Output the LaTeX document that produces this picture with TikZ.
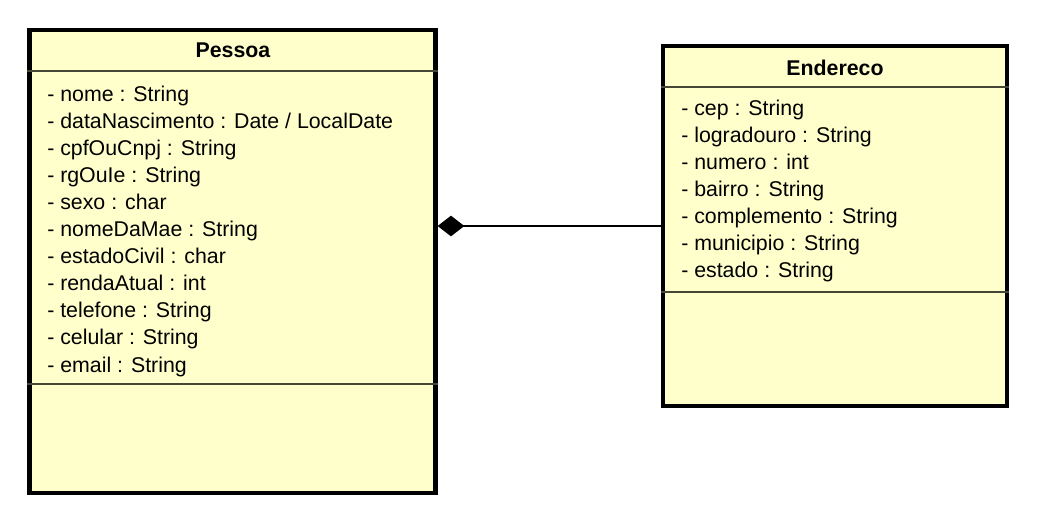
\documentclass[tikz,border=0pt]{standalone}
\usepackage{fontspec}
\setmainfont{Liberation Sans}
\usetikzlibrary{arrows.meta}
\definecolor{classfill}{HTML}{FFFFCC}
\definecolor{sepline}{RGB}{70,70,55}
\begin{document}
\begin{tikzpicture}[x=0.75pt,y=-0.75pt,
  classbox/.style={draw=black,line width=3.2pt,fill=classfill,inner sep=0pt,rectangle},
  classname/.style={font=\fontsize{16pt}{19pt}\selectfont\bfseries,anchor=base,inner sep=0pt},
  attr/.style={font=\fontsize{16pt}{19pt}\selectfont,anchor=base west,inner sep=0pt},
  sep/.style={draw=sepline,line width=1.4pt},
  compose/.style={line width=1.5pt,{Diamond[length=20pt,width=15.5pt]}-}]
\useasboundingbox (0,0) rectangle (1042,511);

% class Pessoa
\node[classbox,minimum width=304.5pt,minimum height=347.25pt] (pessoa) at (232.5,261.5) {};
\draw[sep] (pessoa.west |- 0,71) -- (pessoa.east |- 0,71);
\draw[sep] (pessoa.west |- 0,384) -- (pessoa.east |- 0,384);
\node[classname] (pessoaname) at (233,57) {Pessoa};
\foreach \t [count=\i] in {{- nome : String},{- dataNascimento : Date / LocalDate},{- cpfOuCnpj : String},{- rgOuIe : String},{- sexo : char},{- nomeDaMae : String},{- estadoCivil : char},{- rendaAtual : int},{- telefone : String},{- celular : String},{- email : String}}
  \node[attr] (p\i) at (47,{101+27.1*(\i-1)}) {\t};

% class Endereco
\node[classbox,minimum width=258pt,minimum height=270pt] (endereco) at (835,226) {};
\draw[sep] (endereco.west |- 0,87) -- (endereco.east |- 0,87);
\draw[sep] (endereco.west |- 0,292) -- (endereco.east |- 0,292);
\node[classname] (endereconame) at (835,75) {Endereco};
\foreach \t [count=\i] in {{- cep : String},{- logradouro : String},{- numero : int},{- bairro : String},{- complemento : String},{- municipio : String},{- estado : String}}
  \node[attr] (e\i) at (681,{115+27.1*(\i-1)}) {\t};

% composition Pessoa <>-- Endereco
\draw[compose] (pessoa.east |- endereco.west) -- (endereco.west);
\end{tikzpicture}
\end{document}
